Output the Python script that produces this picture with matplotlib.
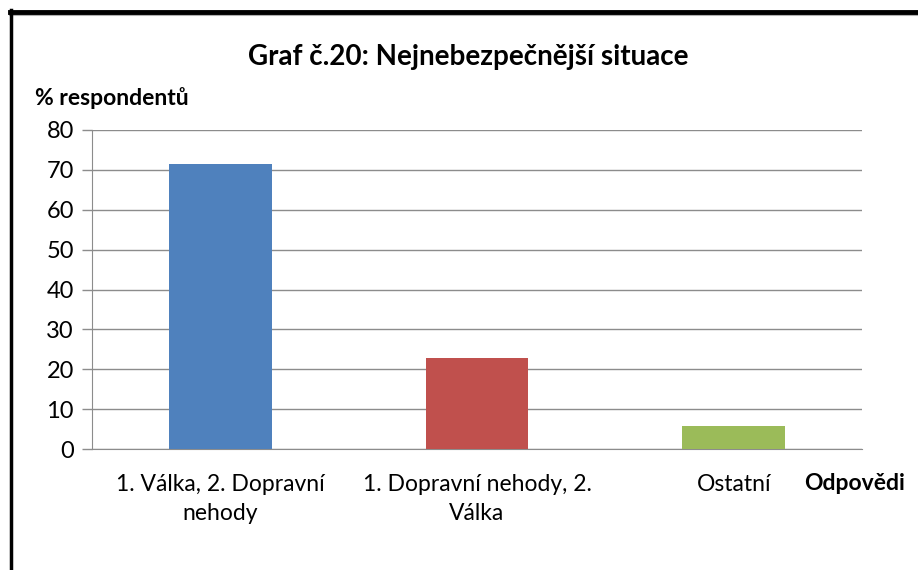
import matplotlib.pyplot as plt
from matplotlib.lines import Line2D

plt.rcParams['font.family'] = ['Lato', 'DejaVu Sans']

categories = ["1. Válka, 2. Dopravní\nnehody", "1. Dopravní nehody, 2.\nVálka", "Ostatní"]
values = [71.4, 22.9, 5.7]
colors = ["#4f81bd", "#c0504d", "#9bbb59"]
y_ticks = [0, 10, 20, 30, 40, 50, 60, 70, 80]

W, H = 918, 570
fig = plt.figure(figsize=(W / 100, H / 100), dpi=100)
fig.patch.set_facecolor("white")

# plot area in pixel coords
left, right, top, bottom = 92, 862, 130, 449
ax = fig.add_axes([left / W, 1 - bottom / H, (right - left) / W, (bottom - top) / H])

x = list(range(len(categories)))
ax.bar(x, values, width=0.4, color=colors, zorder=3)
ax.set_xlim(-0.5, len(categories) - 0.5)
ax.set_ylim(0, 80)
ax.set_yticks(y_ticks)
ax.set_xticks(x)
ax.set_xticklabels(categories, fontsize=16.5, linespacing=1.45)
ax.tick_params(axis='x', length=0, pad=18)
ax.tick_params(axis='y', length=7, width=1, color="#8c8c8c", labelsize=17, pad=6)
ax.yaxis.grid(True, color="#8c8c8c", linewidth=1, zorder=0)
for s in ["top", "right"]:
    ax.spines[s].set_visible(False)
ax.spines["left"].set_color("#8c8c8c")
ax.spines["bottom"].set_color("#8c8c8c")

fig.text(468 / W, 1 - 57 / H, "Graf č.20: Nejnebezpečnější situace",
         ha="center", va="center", fontsize=20, fontweight="bold")
fig.text(35 / W, 1 - 98 / H, "% respondentů", ha="left", va="center",
         fontsize=16.5, fontweight="bold")
fig.text(855 / W, 1 - 483 / H, "Odpovědi", ha="center", va="center",
         fontsize=16.5, fontweight="bold")

# frame border (top and left visible)
fig.add_artist(Line2D([10 / W, 1], [1 - 14.5 / H, 1 - 14.5 / H], color="#b0b0b0", linewidth=1.5))
fig.add_artist(Line2D([10 / W, 1], [1 - 12 / H, 1 - 12 / H], color="black", linewidth=3.5))
fig.add_artist(Line2D([11 / W, 11 / W], [1 - 10 / H, 0], color="black", linewidth=2.5))

fig.savefig("out.png", dpi=100)
